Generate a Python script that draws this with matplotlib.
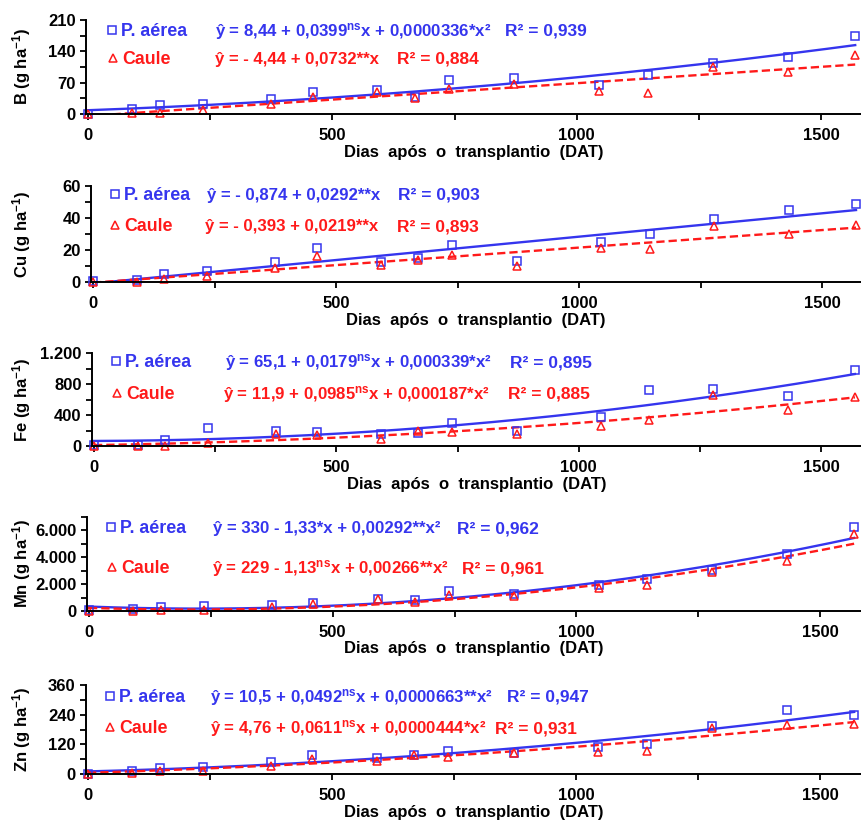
import numpy as np
import matplotlib.pyplot as plt
from matplotlib.lines import Line2D
from matplotlib.ticker import FixedLocator, FuncFormatter

plt.rcParams['font.family'] = ['Liberation Sans', 'DejaVu Sans']
plt.rcParams['font.weight'] = 'bold'
plt.rcParams['mathtext.fontset'] = 'custom'
plt.rcParams['mathtext.rm'] = 'Liberation Sans:bold'
plt.rcParams['mathtext.it'] = 'Liberation Sans:bold'
plt.rcParams['mathtext.bf'] = 'Liberation Sans:bold'
plt.rcParams['axes.unicode_minus'] = False

# dias após o transplantio
dias = [0, 90, 147, 235, 375, 460, 592, 669, 738, 872, 1046, 1146, 1278, 1432, 1570]

b_pa = [0, 11, 19, 22, 34, 49, 53, 37, 75, 80, 65, 88, 115, 127, 174]
b_caule = [0, 2, 3, 8, 23, 38, 50, 36, 56, 68, 52, 46, 105, 94, 131]
cu_pa = [0.4, 1.5, 5, 6.7, 12.6, 21.5, 12.8, 14.7, 23.4, 13.3, 25.3, 30.3, 39.6, 45.3, 48.6]
cu_caule = [0, 0, 1.7, 3.6, 9, 16.2, 10.5, 13.7, 16.6, 10.3, 21.3, 20.4, 35.2, 29.9, 35.6]
fe_pa = [9, 17, 75, 232, 196, 185, 152, 170, 300, 200, 370, 720, 730, 650, 985]
fe_caule = [0, 0, 5, 40, 150, 145, 95, 190, 183, 160, 261, 335, 660, 460, 630]
mn_pa = [80, 150, 330, 380, 450, 630, 910, 800, 1510, 1230, 1940, 2390, 3020, 4230, 6250]
mn_caule = [0, 0, 50, 80, 330, 550, 880, 650, 1210, 1080, 1690, 1915, 2900, 3730, 5740]
zn_pa = [0, 11, 26, 28, 49, 76, 64, 78, 92, 85, 108, 122, 193, 258, 238]
zn_caule = [0, 3, 11, 14, 31, 60, 54, 76, 69, 84, 87, 93, 188, 200, 203]

# coeficientes das regressões (a, b, c): y = a + b*x + c*x²
coef_pa = [[8.44, 0.0399, 0.0000336], [-0.874, 0.0292, 0], [65.1, 0.0179, 0.000339],
           [330, -1.33, 0.00292], [10.5, 0.0492, 0.0000663]]
coef_caule = [[-4.44, 0.0732, 0], [-0.393, 0.0219, 0], [11.9, 0.0985, 0.000187],
              [229, -1.13, 0.00266], [4.76, 0.0611, 0.0000444]]

ylabels = ['B (g ha$^{-1}$)', 'Cu (g ha$^{-1}$)', 'Fe (g ha$^{-1}$)',
           'Mn (g ha$^{-1}$)', 'Zn (g ha$^{-1}$)']
eq_pa = ['ŷ = 8,44 + 0,0399$^{ns}$x + 0,0000336*x²',
         'ŷ = - 0,874 + 0,0292**x',
         'ŷ = 65,1 + 0,0179$^{ns}$x + 0,000339*x²',
         'ŷ = 330 - 1,33*x + 0,00292**x²',
         'ŷ = 10,5 + 0,0492$^{ns}$x + 0,0000663**x²']
eq_caule = ['ŷ = - 4,44 + 0,0732**x',
            'ŷ = - 0,393 + 0,0219**x',
            'ŷ = 11,9 + 0,0985$^{ns}$x + 0,000187*x²',
            'ŷ = 229 - 1,13$^{ns}$x + 0,00266**x²',
            'ŷ = 4,76 + 0,0611$^{ns}$x + 0,0000444*x²']
r2_pa = ['R² = 0,939', 'R² = 0,903', 'R² = 0,895', 'R² = 0,962', 'R² = 0,947']
r2_caule = ['R² = 0,884', 'R² = 0,893', 'R² = 0,885', 'R² = 0,961', 'R² = 0,931']
yticks = [[0, 70, 140, 210], [0, 20, 40, 60], [0, 400, 800, 1200],
          [0, 2000, 4000, 6000], [0, 120, 240, 360]]
ytop = [210, 60, 1200, 7000, 360]

pa_data = [b_pa, cu_pa, fe_pa, mn_pa, zn_pa]
caule_data = [b_caule, cu_caule, fe_caule, mn_caule, zn_caule]

# layout in pixels
W, H = 861, 823
top_px = [20, 186, 353, 517, 685]
bot_px = [114, 282, 446, 611, 774]
x0_px = [88, 93, 94, 89, 88]
x1500_px = [821, 822, 821, 820, 820]
# legend entries
legb_x = [112, 115, 116, 111, 110]
legr_x = [113, 115, 117, 112, 110]
# equations
eqb_x = [215, 207, 225, 213, 210]
eqr_x = [215, 205, 223, 212, 210]
r2b_x = [505, 398, 510, 457, 507]
r2r_x = [397, 397, 508, 462, 495]
rowb_y = [30, 194, 361, 527, 696]
rowr_y = [58, 225, 393, 567, 727]
eq_fs = 12.1

blue = '#3535ee'
red = '#ff1a1a'
XMIN, XMAX = -4, 1585

fig = plt.figure(figsize=(W / 100, H / 100), dpi=100)
fx = lambda px: px / W
fy = lambda py: 1 - py / H
fmt = FuncFormatter(lambda v, p: f'{int(v):,}'.replace(',', '.'))
xs = np.linspace(0, 1570, 300)

for i in range(5):
    ppd = (x1500_px[i] - x0_px[i]) / 1500
    left = x0_px[i] + XMIN * ppd
    right = x0_px[i] + XMAX * ppd
    ax = fig.add_axes([fx(left), fy(bot_px[i]), (right - left) / W,
                       (bot_px[i] - top_px[i]) / H])
    a, b, c = coef_pa[i]
    ax.plot(xs, a + b * xs + c * xs ** 2, color=blue, lw=1.7)
    a, b, c = coef_caule[i]
    ax.plot(xs, a + b * xs + c * xs ** 2, color=red, lw=1.7, ls=(0, (3.5, 1.7)))
    ax.plot(dias, pa_data[i], ls='none', marker='s', ms=5.6, mfc='none',
            mec=blue, mew=1.1, clip_on=False)
    ax.plot(dias, caule_data[i], ls='none', marker='^', ms=5.8, mfc='none',
            mec=red, mew=1.1, clip_on=False)
    ax.set_xlim(XMIN, XMAX)
    ax.set_ylim(0, ytop[i])
    ax.spines['top'].set_visible(False)
    ax.spines['right'].set_visible(False)
    for s in ('left', 'bottom'):
        ax.spines[s].set_linewidth(1.4)
    ax.xaxis.set_major_locator(FixedLocator([0, 500, 1000, 1500]))
    ax.xaxis.set_minor_locator(FixedLocator([250, 750, 1250]))
    ax.yaxis.set_major_locator(FixedLocator(yticks[i]))
    step = yticks[i][1] / 2
    ax.yaxis.set_minor_locator(FixedLocator(np.arange(step, ytop[i] + 1, step * 2)))
    ax.yaxis.set_major_formatter(fmt)
    ax.tick_params(which='both', direction='out', length=4, width=1.3,
                   labelsize=12)
    ax.tick_params(axis='x', pad=6)
    ax.set_facecolor('none')

    yc = (top_px[i] + bot_px[i]) / 2
    fig.text(fx(22), fy(yc), ylabels[i], rotation=90, ha='center', va='center',
             fontsize=12)
    fig.text(fx((left + min(right, W)) / 2), fy(bot_px[i] + 38),
             'Dias  após  o  transplantio  (DAT)', ha='center', va='center',
             fontsize=12)

    for (mx, my, mk, col, lab) in [(legb_x[i], rowb_y[i], 's', blue, 'P. aérea'),
                                   (legr_x[i], rowr_y[i], '^', red, 'Caule')]:
        fig.add_artist(Line2D([fx(mx)], [fy(my)], transform=fig.transFigure,
                              marker=mk, ms=5.2, mfc='none', mec=col, mew=1.1))
        fig.text(fx(mx + 9), fy(my + 6), lab, color=col, ha='left',
                 va='baseline', fontsize=12.8)
    # baseline placed ~6 px below the digit centre
    fig.text(fx(eqb_x[i]), fy(rowb_y[i] + 6), eq_pa[i], color=blue, ha='left',
             va='baseline', fontsize=eq_fs)
    fig.text(fx(eqr_x[i]), fy(rowr_y[i] + 6), eq_caule[i], color=red, ha='left',
             va='baseline', fontsize=eq_fs)
    fig.text(fx(r2b_x[i]), fy(rowb_y[i] + 6), r2_pa[i], color=blue, ha='left',
             va='baseline', fontsize=12.5)
    fig.text(fx(r2r_x[i]), fy(rowr_y[i] + 6), r2_caule[i], color=red, ha='left',
             va='baseline', fontsize=12.5)

fig.savefig('out.png', dpi=100)
